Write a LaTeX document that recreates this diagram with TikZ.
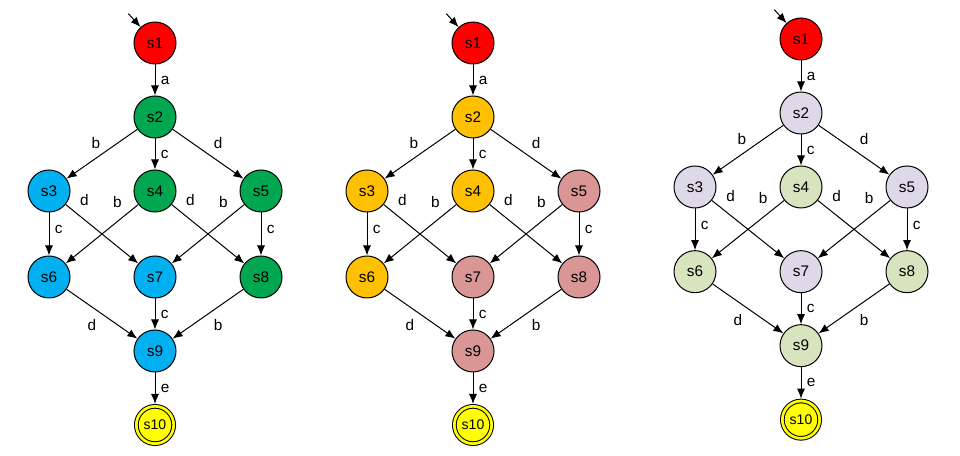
\documentclass[tikz,border=0pt]{standalone}
\usepackage{fontspec}
\setmainfont{Liberation Sans}
\usetikzlibrary{automata,positioning,arrows.meta}

\definecolor{fsmred}{HTML}{FF0000}
\definecolor{fsmgreen}{HTML}{00A650}
\definecolor{fsmblue}{HTML}{00B0F0}
\definecolor{fsmyellow}{HTML}{FFFF00}
\definecolor{fsmorange}{HTML}{FFC000}
\definecolor{fsmpink}{HTML}{D99694}
\definecolor{fsmlilac}{HTML}{DDD9E8}
\definecolor{fsmsage}{HTML}{D7E4BD}

\tikzset{
  every state/.style={draw=black,line width=0.75pt,minimum size=31.5pt,inner sep=0pt,
    font=\fontsize{11.5}{13}\selectfont},
  final/.style={fill=fsmyellow,double=fsmyellow,double distance=2pt,minimum size=28pt,
    outer sep=1.75pt,font=\fontsize{10.5}{12}\selectfont},
  lbl/.style={font=\fontsize{11.5}{13}\selectfont,inner sep=4pt},
}

\begin{document}
\begin{tikzpicture}[node distance=55.5pt,on grid,auto,line width=0.75pt,
    >={Latex[length=7.5pt,width=6pt]}]
   \useasboundingbox (0,0) rectangle (720pt,342pt);

   % left
   \begin{scope}[shift={(116.25pt,309.75pt)}]
   \node[state,fill=fsmred] (l1) {s1};
   \node[state,fill=fsmgreen] (l2) [below=of l1] {s2};
   \node[state,fill=fsmgreen] (l4) [below=of l2] {s4};
   \node[state,fill=fsmblue] (l3) [left=79.5pt of l4] {s3};
   \node[state,fill=fsmgreen] (l5) [right=79.5pt of l4] {s5};
   \node[state,fill=fsmblue] (l7) [below=64.5pt of l4] {s7};
   \node[state,fill=fsmblue] (l6) [left=79.5pt of l7] {s6};
   \node[state,fill=fsmgreen] (l8) [right=79.5pt of l7] {s8};
   \node[state,fill=fsmblue] (l9) [below=of l7] {s9};
   \node[state,final] (l10) [below=of l9] {s10};
   \coordinate (l0) at ([shift={(-20pt,22pt)}]l1.center);
    \path[->]
    (l0) edge (l1)
    (l1) edge node[lbl] {a} (l2)
    (l2) edge node[lbl,swap,xshift=3pt] {b} (l3)
         edge node[lbl] {c} (l4)
         edge node[lbl] {d} (l5)
    (l3) edge node[lbl,pos=0.4] {c} (l6)
         edge node[lbl,pos=0.12] {d} (l7)
    (l4) edge node[lbl,swap,pos=0.15] {b} (l6)
         edge node[lbl,pos=0.12] {d} (l8)
    (l5) edge node[lbl,swap,pos=0.15] {b} (l7)
         edge node[lbl,pos=0.4] {c} (l8)
    (l6) edge node[lbl,swap] {d} (l9)
    (l7) edge node[lbl] {c} (l9)
    (l8) edge node[lbl] {b} (l9)
    (l9) edge node[lbl] {e} (l10);
   \end{scope}

   % middle
   \begin{scope}[shift={(354.75pt,309.75pt)}]
   \node[state,fill=fsmred] (m1) {s1};
   \node[state,fill=fsmorange] (m2) [below=of m1] {s2};
   \node[state,fill=fsmorange] (m4) [below=of m2] {s4};
   \node[state,fill=fsmorange] (m3) [left=79.5pt of m4] {s3};
   \node[state,fill=fsmpink] (m5) [right=79.5pt of m4] {s5};
   \node[state,fill=fsmpink] (m7) [below=64.5pt of m4] {s7};
   \node[state,fill=fsmorange] (m6) [left=79.5pt of m7] {s6};
   \node[state,fill=fsmpink] (m8) [right=79.5pt of m7] {s8};
   \node[state,fill=fsmpink] (m9) [below=of m7] {s9};
   \node[state,final] (m10) [below=of m9] {s10};
   \coordinate (m0) at ([shift={(-20pt,22pt)}]m1.center);
    \path[->]
    (m0) edge (m1)
    (m1) edge node[lbl] {a} (m2)
    (m2) edge node[lbl,swap,xshift=3pt] {b} (m3)
         edge node[lbl] {c} (m4)
         edge node[lbl] {d} (m5)
    (m3) edge node[lbl,pos=0.4] {c} (m6)
         edge node[lbl,pos=0.12] {d} (m7)
    (m4) edge node[lbl,swap,pos=0.15] {b} (m6)
         edge node[lbl,pos=0.12] {d} (m8)
    (m5) edge node[lbl,swap,pos=0.15] {b} (m7)
         edge node[lbl,pos=0.4] {c} (m8)
    (m6) edge node[lbl,swap] {d} (m9)
    (m7) edge node[lbl] {c} (m9)
    (m8) edge node[lbl] {b} (m9)
    (m9) edge node[lbl] {e} (m10);
   \end{scope}

   % right
   \begin{scope}[shift={(600.75pt,312.75pt)}]
   \node[state,fill=fsmred] (r1) {s1};
   \node[state,fill=fsmlilac] (r2) [below=of r1] {s2};
   \node[state,fill=fsmsage] (r4) [below=of r2] {s4};
   \node[state,fill=fsmlilac] (r3) [left=79.5pt of r4] {s3};
   \node[state,fill=fsmlilac] (r5) [right=79.5pt of r4] {s5};
   \node[state,fill=fsmlilac] (r7) [below=63.5pt of r4] {s7};
   \node[state,fill=fsmsage] (r6) [left=79.5pt of r7] {s6};
   \node[state,fill=fsmsage] (r8) [right=79.5pt of r7] {s8};
   \node[state,fill=fsmsage] (r9) [below=of r7] {s9};
   \node[state,final] (r10) [below=of r9] {s10};
   \coordinate (r0) at ([shift={(-20pt,22pt)}]r1.center);
    \path[->]
    (r0) edge (r1)
    (r1) edge node[lbl] {a} (r2)
    (r2) edge node[lbl,swap,xshift=3pt] {b} (r3)
         edge node[lbl] {c} (r4)
         edge node[lbl] {d} (r5)
    (r3) edge node[lbl,pos=0.4] {c} (r6)
         edge node[lbl,pos=0.12] {d} (r7)
    (r4) edge node[lbl,swap,pos=0.15] {b} (r6)
         edge node[lbl,pos=0.12] {d} (r8)
    (r5) edge node[lbl,swap,pos=0.15] {b} (r7)
         edge node[lbl,pos=0.4] {c} (r8)
    (r6) edge node[lbl,swap] {d} (r9)
    (r7) edge node[lbl] {c} (r9)
    (r8) edge node[lbl] {b} (r9)
    (r9) edge node[lbl] {e} (r10);
   \end{scope}
\end{tikzpicture}
\end{document}
